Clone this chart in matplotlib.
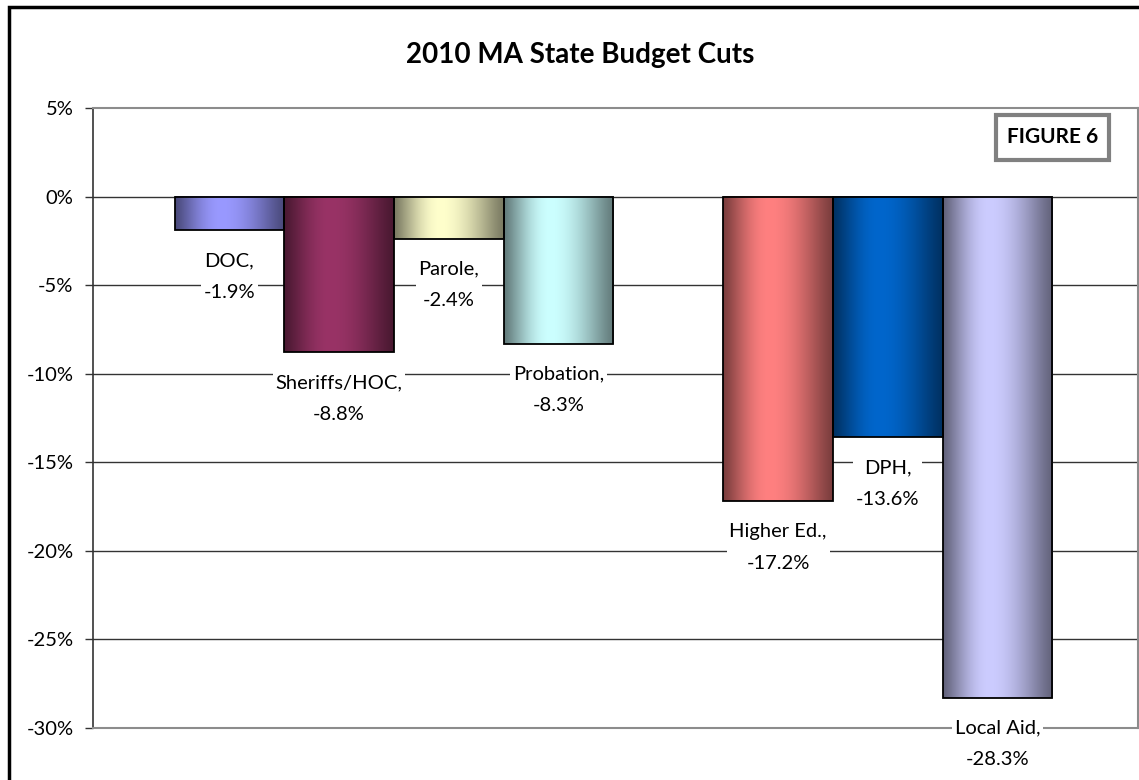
import numpy as np
import matplotlib
matplotlib.use("Agg")
import matplotlib.pyplot as plt
from matplotlib.colors import to_rgb
from matplotlib.patches import Rectangle

plt.rcParams['font.family'] = ['Lato', 'DejaVu Sans']

# ---- data ----
categories = ["DOC", "Sheriffs/HOC", "Parole", "Probation",
              "Higher Ed.", "DPH", "Local Aid"]
values = [-1.9, -8.8, -2.4, -8.3, -17.2, -13.6, -28.3]
positions = [0, 1, 2, 3, 5, 6, 7]
bar_colors = ["#9999FF", "#993366", "#FFFFCC", "#CCFFFF",
              "#FF8080", "#0066CC", "#CCCCFF"]
yticks = [5, 0, -5, -10, -15, -20, -25, -30]
ytick_labels = ["5%", "0%", "-5%", "-10%", "-15%", "-20%", "-25%", "-30%"]
title = "2010 MA State Budget Cuts"

W, H = 1139, 780
fig = plt.figure(figsize=(W / 100, H / 100), dpi=100)

# plot area in pixels: left 93, right 1138, top 108, bottom 728
ax = fig.add_axes([93 / W, 1 - 728 / H, (1138 - 93) / W, (728 - 108) / H])
ax.set_xlim(-1.243, 8.28)
ax.set_ylim(-30, 5)

# gridlines
for yv in yticks:
    if yv in (5, -30):
        continue
    ax.axhline(yv, color="#333333", lw=1.0, zorder=1)

bars = ax.bar(positions, values, width=1.0, color="none",
              edgecolor="black", linewidth=1.3, zorder=3)


def gradient_row(base, n=200):
    base = np.array(to_rgb(base))
    dark = base * 0.48
    t = np.linspace(0, 1, n)
    peak = 0.42
    s = np.where(t < peak, t / peak, (1 - t) / (1 - peak))
    s = np.sin(s * np.pi / 2) ** 1.2
    cols = dark[None, :] + (base - dark)[None, :] * s[:, None]
    return cols[None, :, :]


for patch, c in zip(bars.patches, bar_colors):
    x0, y0 = patch.get_x(), patch.get_y()
    w, h = patch.get_width(), patch.get_height()
    ax.imshow(gradient_row(c), extent=[x0, x0 + w, y0 + h, y0],
              aspect="auto", zorder=2, interpolation="bilinear")

ax.set_xlim(-1.243, 8.28)
ax.set_ylim(-30, 5)

# data labels
for p, v, name in zip(positions, values, categories):
    ax.text(p, v - 2.6, f"{name},\n{v:.1f}%", ha="center", va="center",
            fontsize=14.5, linespacing=2.05, color="black", zorder=5,
            bbox=dict(facecolor="white", edgecolor="none", pad=2))

# axes styling
ax.set_yticks(yticks)
ax.set_yticklabels(ytick_labels, fontsize=14.5)
ax.set_xticks([])
ax.tick_params(axis="y", length=6, width=1, color="#333333", pad=8)
for side in ("top", "right", "bottom"):
    ax.spines[side].set_color("#8c8c8c")
    ax.spines[side].set_linewidth(1.5)
ax.spines["left"].set_color("#333333")
ax.spines["left"].set_linewidth(1.2)

# title
fig.text(580 / W, 1 - 55 / H, title, ha="center", va="center",
         fontsize=20, fontweight="bold")

# FIGURE 6 box
fig.text((996 + 1109) / 2 / W, 1 - 137 / H, "FIGURE 6", ha="center",
         va="center", fontsize=15, fontweight="bold")
fig.patches.append(Rectangle((996 / W, 1 - 160 / H), 113 / W, 45 / H,
                             transform=fig.transFigure, fill=False,
                             edgecolor="#808080", linewidth=3))

# outer chart border
fig.patches.append(Rectangle((9 / W, -0.05), 1.2, 1 - 7 / H + 0.05,
                             transform=fig.transFigure, fill=False,
                             edgecolor="black", linewidth=2.5))

fig.savefig("out.png", dpi=100)
